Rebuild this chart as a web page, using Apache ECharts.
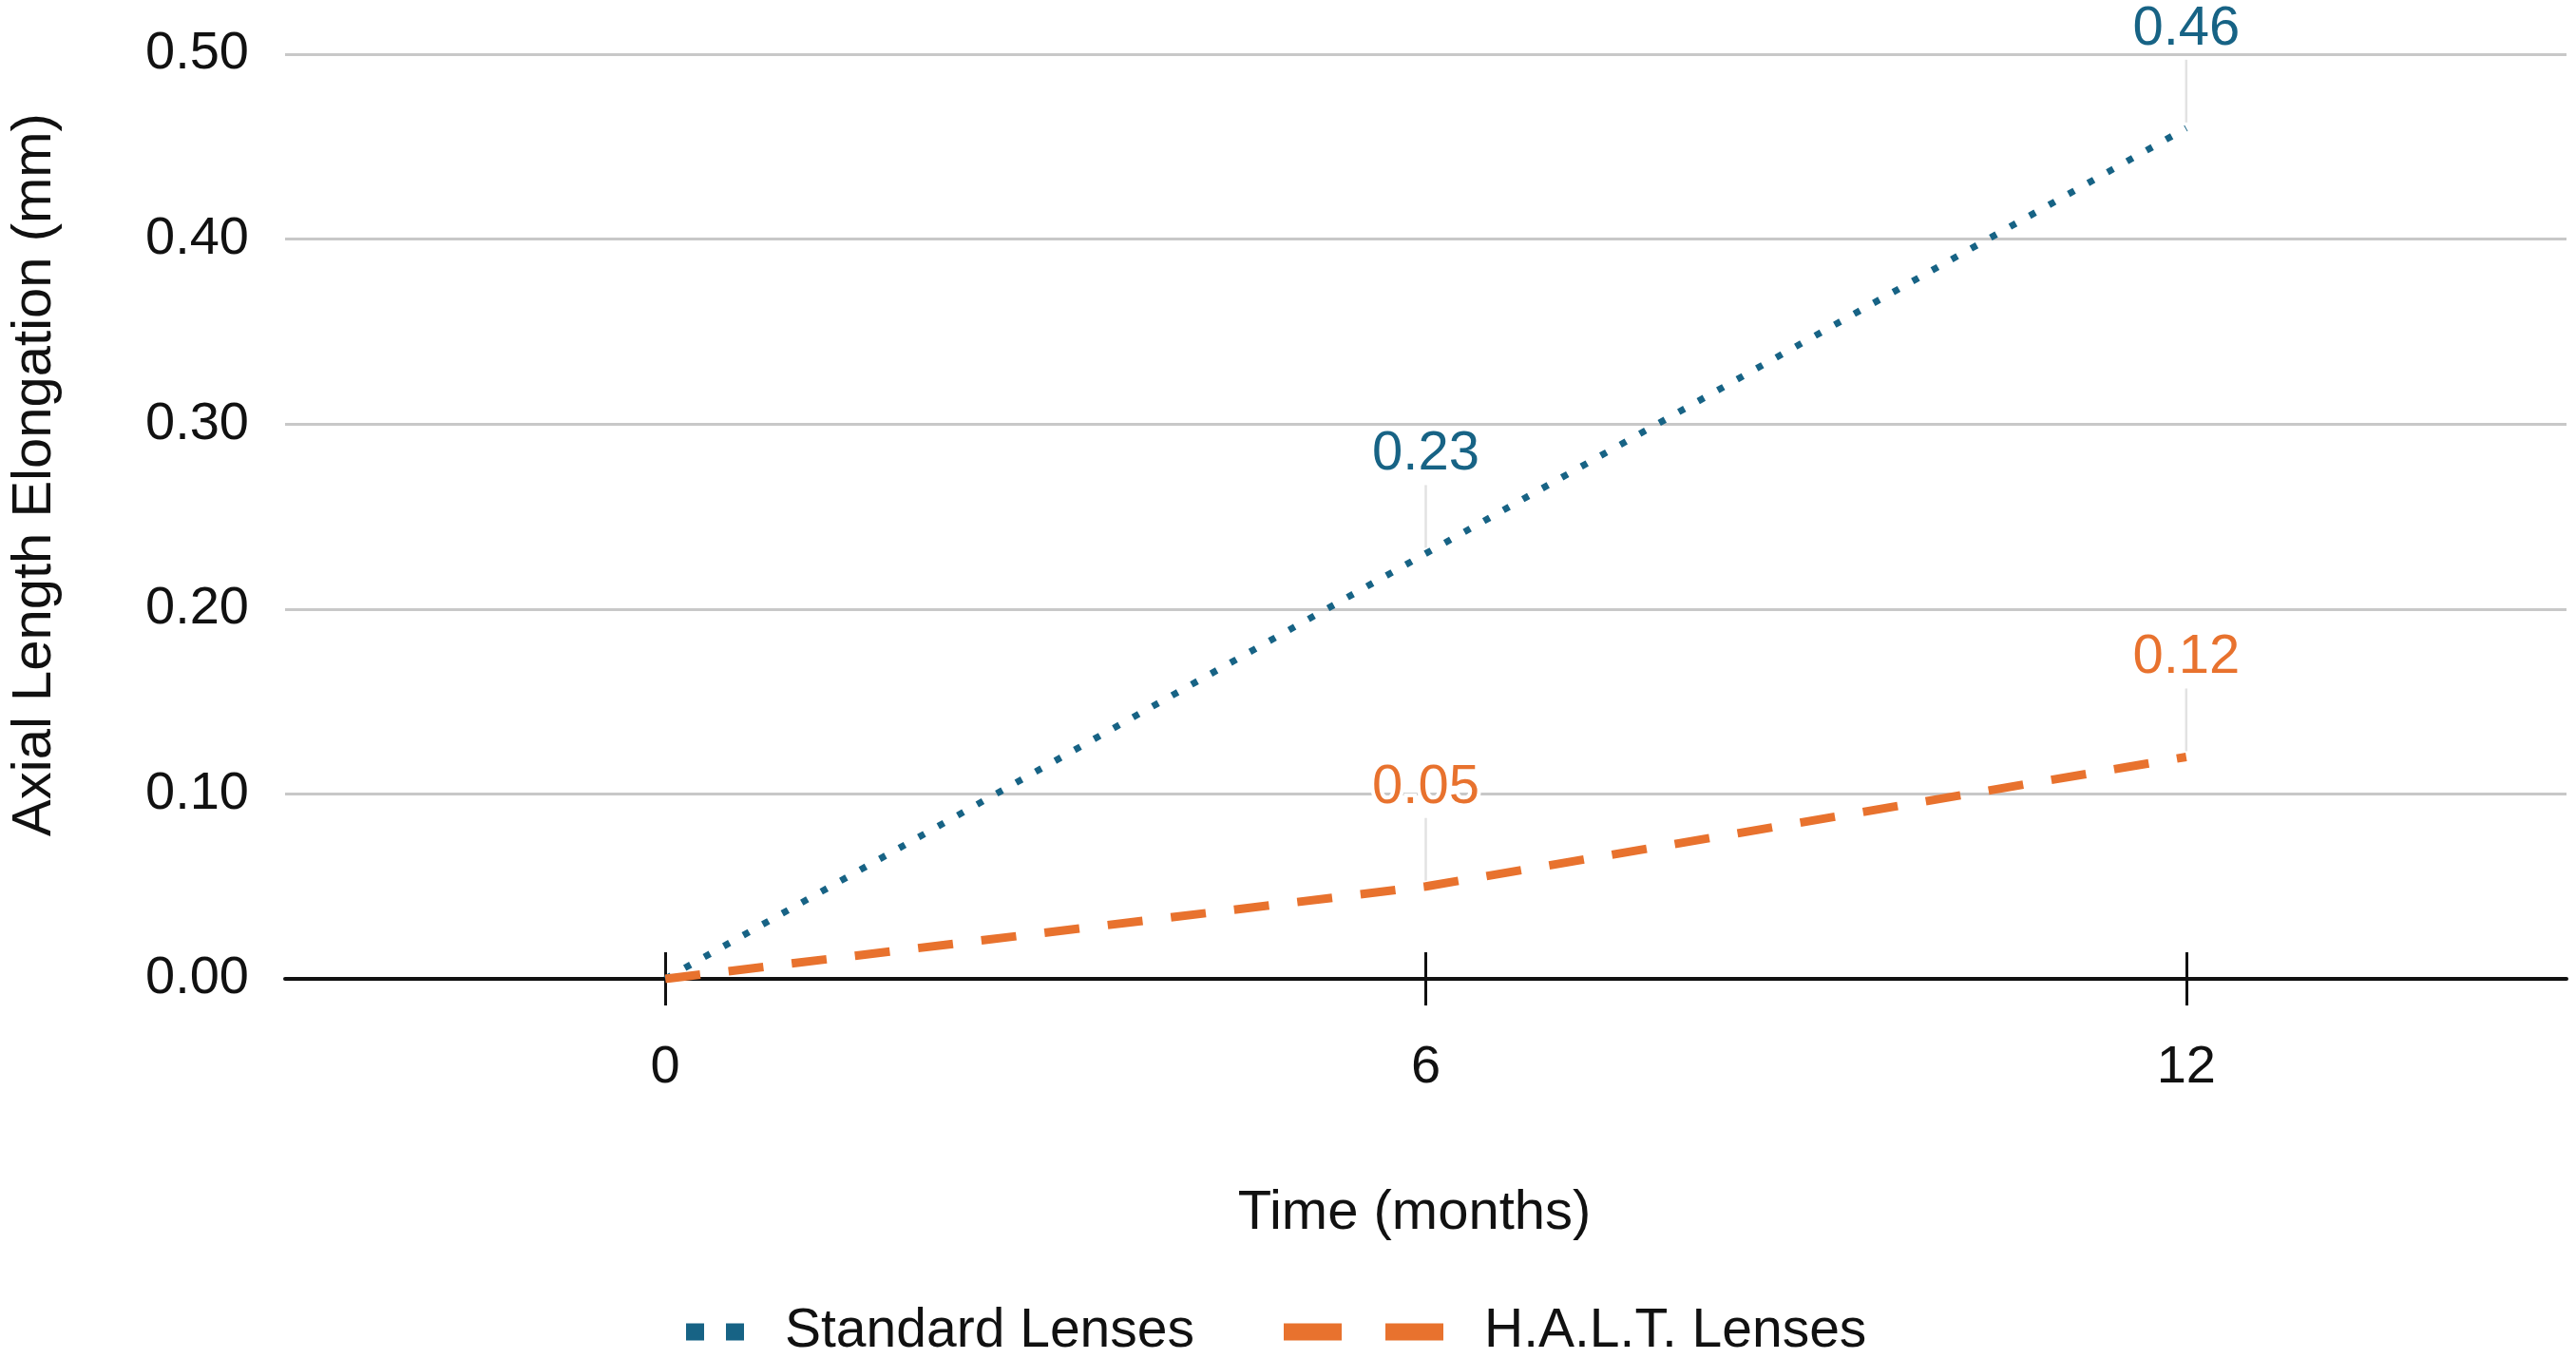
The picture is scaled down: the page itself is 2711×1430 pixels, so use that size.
<!DOCTYPE html>
<html>
<head>
<meta charset="utf-8">
<style>
  html, body { margin: 0; padding: 0; background: #ffffff; }
  #chart { width: 2711px; height: 1430px; }
</style>
<script src="https://cdn.jsdelivr.net/npm/echarts@6/dist/echarts.min.js"></script>
</head>
<body>
<div id="chart"></div>
<script>
// ---- Data ----
const months = [0, 6, 12];
const standardValues = [0, 0.23, 0.46];
const haltValues = [0, 0.05, 0.12];
const xTickValues = [0, 6, 12];
const seriesNames = ['Standard Lenses', 'H.A.L.T. Lenses'];
const xTitle = 'Time (months)';
const yTitle = 'Axial Length Elongation (mm)';

const BLUE = '#176385';
const ORANGE = '#e8722e';
const FONT = '"Liberation Sans", Arial, Helvetica, sans-serif';
const FS_TICK = 56;
const FS_TITLE = 58;
const FS_LEGEND = 57;
const FS_LABEL = 58;

function buildData(values) {
  return months.map((m, i) => ({
    value: [m, values[i]],
    label: { show: i > 0 }
  }));
}

// leader-line anchor points: every labelled point (all but month 0)
const leaderPoints = [];
[standardValues, haltValues].forEach(vals => {
  months.forEach((m, i) => { if (i > 0) leaderPoints.push([m, vals[i]]); });
});

function lineSeries(name, values, color, lineType, width) {
  return {
    name: name,
    type: 'line',
    data: buildData(values),
    symbol: 'circle',
    symbolSize: 2,
    showSymbol: true,
    itemStyle: { color: 'transparent', borderWidth: 0 },
    lineStyle: { color: color, width: width, type: lineType, cap: 'butt' },
    label: {
      position: 'top',
      distance: 74,
      color: color,
      fontFamily: FONT,
      fontSize: FS_LABEL,
      lineHeight: 58,
      textBorderColor: '#ffffff',
      textBorderWidth: 8,
      formatter: p => p.value[1].toFixed(2)
    },
    emphasis: { disabled: true },
    silent: true,
    z: 3
  };
}

const chart = echarts.init(document.getElementById('chart'), null, { renderer: 'canvas' });

const legendText = { fontFamily: FONT, fontSize: FS_LEGEND, color: '#111', lineHeight: 56, padding: [0, 0, 0, 38] };

const option = {
  backgroundColor: '#ffffff',
  animation: false,
  textStyle: { fontFamily: FONT },
  grid: { left: 297, right: 10, top: 57, bottom: 400, containLabel: false },
  legend: [
    {
      data: [seriesNames[0]],
      left: 713,
      top: 1373,
      padding: 0,
      itemWidth: 61,
      itemHeight: 18,
      lineStyle: { width: 18, type: [19, 23], cap: 'butt', color: BLUE },
      itemStyle: { opacity: 0 },
      textStyle: legendText,
      selectedMode: false
    },
    {
      data: [seriesNames[1]],
      left: 1342,
      top: 1373,
      padding: 0,
      itemWidth: 168,
      itemHeight: 18,
      lineStyle: { width: 18, type: [61, 46], cap: 'butt', color: ORANGE },
      itemStyle: { opacity: 0 },
      textStyle: legendText,
      selectedMode: false
    }
  ],
  xAxis: [
    {
      type: 'value',
      min: -3,
      max: 15,
      position: 'bottom',
      name: xTitle,
      nameLocation: 'middle',
      nameGap: 218,
      nameTextStyle: { fontFamily: FONT, fontSize: FS_TITLE, color: '#111', padding: [0, 24, 0, 0] },
      axisLine: { show: true, onZero: false, lineStyle: { color: '#111', width: 4 } },
      axisTick: { show: true, inside: false, length: 28, customValues: xTickValues, lineStyle: { color: '#111', width: 3 } },
      axisLabel: { show: true, customValues: xTickValues, margin: 66, fontFamily: FONT, fontSize: FS_TICK, color: '#111' },
      splitLine: { show: false }
    },
    {
      type: 'value',
      min: -3,
      max: 15,
      position: 'bottom',
      offset: 0,
      axisLine: { show: false },
      axisTick: { show: true, inside: true, length: 28, customValues: xTickValues, lineStyle: { color: '#111', width: 3 } },
      axisLabel: { show: false },
      splitLine: { show: false }
    }
  ],
  yAxis: {
    type: 'value',
    min: 0,
    max: 0.5,
    interval: 0.1,
    name: yTitle,
    nameLocation: 'middle',
    nameGap: 234,
    nameTextStyle: { fontFamily: FONT, fontSize: FS_TITLE, color: '#111', padding: [0, 0, 0, 88] },
    axisLine: { show: false },
    axisTick: { show: false },
    axisLabel: { margin: 38, fontFamily: FONT, fontSize: FS_TICK, color: '#111', formatter: v => v.toFixed(2) },
    splitLine: { show: true, lineStyle: { color: '#c8c8c8', width: 3 } }
  },
  series: [
    {
      name: 'leaders',
      type: 'custom',
      data: leaderPoints,
      encode: { x: 0, y: 1 },
      silent: true,
      z: 2,
      renderItem: function (params, api) {
        const p = api.coord([api.value(0), api.value(1)]);
        return {
          type: 'line',
          shape: { x1: p[0], y1: p[1] - 6, x2: p[0], y2: p[1] - 72 },
          style: { stroke: '#e2e2e2', lineWidth: 2.5 }
        };
      }
    },
    lineSeries(seriesNames[0], standardValues, BLUE, [7, 16.5], 7),
    lineSeries(seriesNames[1], haltValues, ORANGE, [37, 30], 9)
  ]
};

chart.setOption(option);
</script>
</body>
</html>
